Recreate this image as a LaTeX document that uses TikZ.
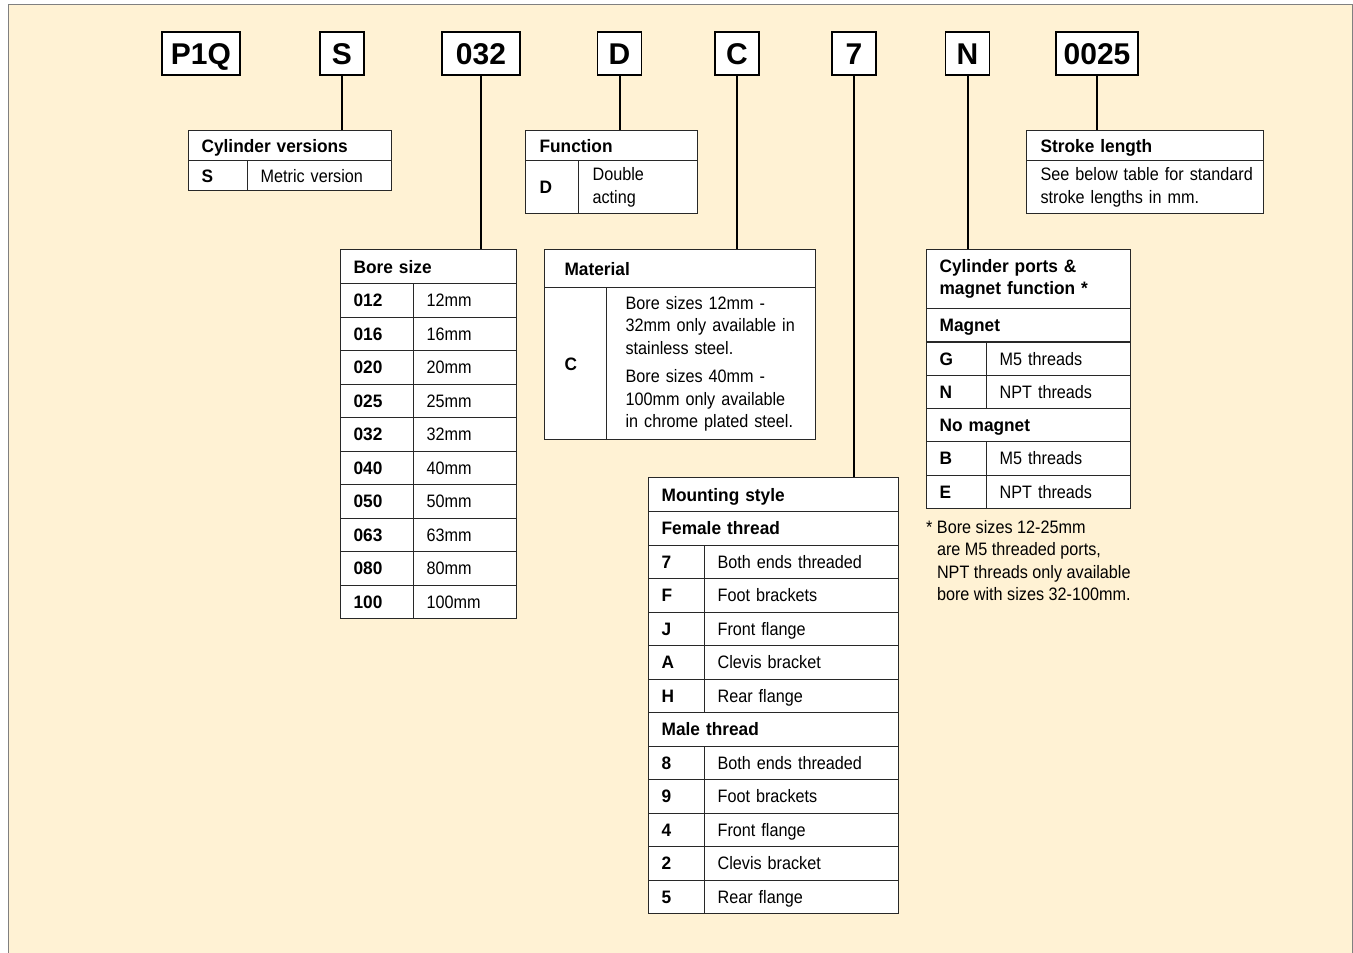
\documentclass[tikz,border=0pt]{standalone}
\usepackage{fontspec}
\newfontfamily\tabfont{Liberation Sans}[FakeStretch=0.9, BoldFeatures={FakeStretch=0.96}]
\newfontfamily\codefont{Liberation Sans}
\definecolor{paper}{RGB}{255,242,212}
\definecolor{tabline}{RGB}{40,40,40}
\newcommand{\tabsize}{\fontsize{18}{22.5}\selectfont}
\hyphenpenalty=10000
\exhyphenpenalty=10000

\begin{document}
\begin{tikzpicture}[x=1pt, y=-1pt,
  codebox/.style={draw, line width=1.4pt, fill=white, minimum height=43, inner sep=0pt, text height=21.5pt, text depth=0pt, font=\codefont\fontsize{30}{36}\selectfont\bfseries},
  box/.style={draw=tabline, line width=1.2pt, fill=white, anchor=north west, inner xsep=13pt, inner ysep=0pt, align=left, font=\tabfont\tabsize},
  cell/.style={box, text height=13pt, text depth=0pt},
  head/.style={cell, font=\tabfont\tabsize\bfseries},
  note/.style={anchor=north west, inner sep=0pt, align=left, font=\tabfont\tabsize},
  link/.style={line width=2pt}]
\useasboundingbox (0,0) rectangle (1353,953);
\fill[paper] (8,4) rectangle (1352,953);
\draw[gray, line width=1pt] (8,953) -- (8,4) -- (1352,4) -- (1352,953);

% order code
\foreach \cx/\cw/\ct/\cn in {201/78/P1Q/series, 342/44/S/version, 481/78/032/bore, 619.5/44/D/func, 737/44/C/mater, 854/44/7/mount, 967.5/44/N/ports, 1097/82/0025/stroke}
	\node[codebox, minimum width=\cw] (\cn) at (\cx,53.5) {\ct};

% cylinder versions
\node[head, text width=177, minimum height=30] (versiontab) at (188,130) {Cylinder versions};
\node[head, text width=33, minimum height=30] (versionS) at (188,160) {S};
\node[cell, text width=118, minimum height=30] (versionSt) at (247,160) {Metric version};

% function
\node[head, inner xsep=14pt, text width=144, minimum height=30] (functab) at (525,130) {Function};
\node[head, inner xsep=14pt, text width=25, minimum height=53] (funcD) at (525,160) {D};
\node[box, inner xsep=14pt, text width=91, minimum height=53] (funcDt) at (578,160) {Double\\acting};

% stroke length
\node[head, inner xsep=14pt, text width=209, minimum height=30] (stroketab) at (1026,130) {Stroke length};
\node[box, inner xsep=14pt, text width=209, minimum height=53] (stroketxt) at (1026,160) {\mbox{See below table for standard}\\stroke lengths in mm.};

% bore size
\node[head, text width=150, minimum height=34] (boretab) at (340,249) {Bore size};
\foreach \i/\k/\v in {0/012/12mm, 1/016/16mm, 2/020/20mm, 3/025/25mm, 4/032/32mm, 5/040/40mm, 6/050/50mm, 7/063/63mm, 8/080/80mm, 9/100/100mm}{
	\node[head, text width=47, minimum height=33.5] (bore\k) at (340,283+33.5*\i) {\k};
	\node[cell, text width=77, minimum height=33.5] (bore\k t) at (413,283+33.5*\i) {\v};
}

% material
\node[head, inner xsep=20pt, text width=231, minimum height=38] (matertab) at (544,249) {Material};
\node[head, inner xsep=20pt, text width=22, minimum height=152] (materC) at (544,287) {C};
\node[box, inner xsep=19pt, text width=171, minimum height=152] (materCt) at (606,287) {Bore sizes 12mm -\\32mm only available in\\stainless steel.\\[6pt]Bore sizes 40mm -\\100mm only available\\in chrome plated steel.};

% mounting style
\node[head, text width=224, minimum height=34] (mounttab) at (648,477) {Mounting style};
\node[head, text width=224, minimum height=33.5] (female) at (648,511) {Female thread};
\node[head, text width=224, minimum height=33.5] (male) at (648,712) {Male thread};
\foreach \i/\k/\v in {1/7/Both ends threaded, 2/F/Foot brackets, 3/J/Front flange, 4/A/Clevis bracket, 5/H/Rear flange, 7/8/Both ends threaded, 8/9/Foot brackets, 9/4/Front flange, 10/2/Clevis bracket, 11/5/Rear flange}{
	\node[head, text width=30, minimum height=33.5] (mount\k) at (648,511+33.5*\i) {\k};
	\node[cell, text width=168, minimum height=33.5] (mount\k t) at (704,511+33.5*\i) {\v};
}

% cylinder ports
\node[box, font=\tabfont\tabsize\bfseries, text width=178, minimum height=59] (portstab) at (926,249) {Cylinder ports \&\\magnet function *};
\node[head, text width=178, minimum height=33.3] (magnet) at (926,308) {Magnet};
\node[head, text width=178, minimum height=33.3] (nomagnet) at (926,408) {No magnet};
\foreach \i/\k/\v in {1/G/M5 threads, 2/N/NPT threads, 4/B/M5 threads, 5/E/NPT threads}{
	\node[head, text width=34, minimum height=33.3] (ports\k) at (926,308+33.3*\i) {\k};
	\node[cell, text width=118, minimum height=33.3] (ports\k t) at (986,308+33.3*\i) {\v};
}
\node[note] (portsnote) at (926,520) {* Bore sizes 12-25mm\\\hphantom{* }are M5 threaded ports,\\\hphantom{* }NPT threads only available\\\hphantom{* }bore with sizes 32-100mm.};

% links
\foreach \c/\t in {version/versiontab, bore/boretab, func/functab, mater/matertab, mount/mounttab, ports/portstab, stroke/stroketab}
	\draw[link] (\c.south) -- (\c.south |- \t.north);
\end{tikzpicture}
\end{document}
